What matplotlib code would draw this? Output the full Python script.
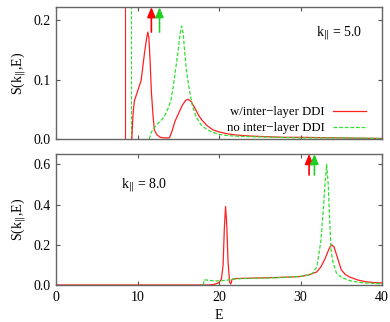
import matplotlib
matplotlib.use("Agg")
import matplotlib.pyplot as plt

plt.rcParams['font.family'] = ['Liberation Serif', 'DejaVu Serif']
plt.rcParams['mathtext.fontset'] = 'stix'

RED = '#ff2020'
GREEN = '#30e030'

# ---- k = 5.0 (top) ----
top_red_E = [9.3, 9.4, 9.5, 9.63, 10.0, 10.45, 10.85, 11.1, 11.26, 11.4, 11.55, 11.7, 11.9, 12.07, 12.4, 12.8, 13.3, 13.9,
             14.2, 14.6, 15.1, 15.5, 15.9, 16.2, 16.6, 17.0, 17.5, 17.9, 18.5, 19.2, 20.0, 21.0, 22.0, 24.0, 26.0, 28.0, 30.0, 35.0, 40.0]
top_red_S = [0.0, 0.03, 0.05, 0.065, 0.08, 0.099, 0.144, 0.168, 0.18, 0.17, 0.13, 0.08, 0.04, 0.015, 0.007, 0.003, 0.002, 0.002,
             0.012, 0.03, 0.045, 0.057, 0.065, 0.067, 0.063, 0.053, 0.04, 0.032, 0.023, 0.016, 0.012, 0.009, 0.007, 0.005, 0.004, 0.003, 0.003, 0.002, 0.001]
top_green_E = [11.45, 11.7, 12.0, 12.3, 12.8, 13.3, 13.7, 14.1, 14.4, 14.7, 15.0, 15.2, 15.4, 15.6, 15.8, 16.0, 16.3, 16.7, 17.2, 17.8,
               18.5, 19.3, 20.0, 21.0, 22.0, 24.0, 27.0, 30.0, 35.0, 40.0]
top_green_S = [0.0, 0.012, 0.018, 0.024, 0.03, 0.038, 0.05, 0.065, 0.09, 0.12, 0.15, 0.175, 0.19, 0.178, 0.145, 0.115, 0.088, 0.058, 0.037, 0.024,
               0.016, 0.011, 0.008, 0.006, 0.005, 0.004, 0.003, 0.002, 0.002, 0.001]
top_red_delta = 8.45
top_green_delta = 9.18
top_arrows_E = [11.7, 12.7]
top_arrow_base = 0.18

# ---- k = 8.0 (bottom) ----
bot_red_E = [0.0, 18.8, 19.5, 20.0, 20.3, 20.5, 20.65, 20.8, 20.95, 21.1, 21.3, 21.45, 21.6, 22.0, 23.0, 25.0, 27.0, 29.0, 30.0, 31.0,
             32.0, 32.5, 33.0, 33.5, 33.8, 34.1, 34.5, 35.0, 35.5, 36.0, 37.0, 38.0, 39.0, 40.0]
bot_red_S = [0.0, 0.0, 0.004, 0.012, 0.03, 0.1, 0.28, 0.39, 0.3, 0.12, 0.013, 0.005, 0.028, 0.032, 0.033, 0.035, 0.037, 0.04, 0.042, 0.05,
             0.065, 0.09, 0.13, 0.18, 0.2, 0.19, 0.14, 0.075, 0.052, 0.04, 0.025, 0.016, 0.012, 0.01]
bot_green_E = [18.1, 18.15, 19.0, 20.0, 20.5, 21.0, 22.0, 23.0, 25.0, 27.0, 29.0, 30.0, 31.0, 31.5, 32.0, 32.5, 32.8, 33.0, 33.2,
               33.4, 33.6, 33.75, 34.0, 34.4, 35.0, 36.0, 37.0, 38.0, 40.0]
bot_green_S = [0.0, 0.026, 0.022, 0.02, 0.022, 0.024, 0.03, 0.032, 0.034, 0.036, 0.04, 0.043, 0.05, 0.06, 0.09, 0.22, 0.38, 0.5, 0.6,
               0.5, 0.3, 0.17, 0.11, 0.06, 0.038, 0.022, 0.014, 0.01, 0.006]
bot_arrows_E = [31.05, 31.7]
bot_arrow_base = 0.547

labels = ['w/inter\u2212layer DDI', 'no inter\u2212layer DDI']
ylab = 'S(k$_{\\Vert}$,E)'

fig = plt.figure(figsize=(3.9, 3.22), dpi=100)
ax1 = fig.add_axes([0.1436, 0.568, 0.836, 0.41])
ax2 = fig.add_axes([0.1436, 0.115, 0.836, 0.407])

for ax in (ax1, ax2):
    ax.set_xlim(0, 40)
    ax.set_xticks([0, 10, 20, 30, 40])
    ax.tick_params(direction='in', top=True, right=True, length=3, width=0.8,
                   labelsize=10, color='#555555', pad=4)
    for s in ax.spines.values():
        s.set_color('#666666')
        s.set_linewidth(1.0)
    ax.set_ylabel(ylab, fontsize=10)

# top
ax1.set_ylim(0, 0.222)
ax1.set_yticks([0.0, 0.1, 0.2])
ax1.set_yticklabels(['0.0', '0.1', '0.2'])
ax1.tick_params(labelbottom=False)
ax1.axvline(top_red_delta, color=RED, lw=0.8)
ax1.axvline(top_green_delta, color=GREEN, lw=0.8, ls=(0, (3, 1.5)))
ax1.plot(top_red_E, top_red_S, color=RED, lw=0.9, label=labels[0])
ax1.plot(top_green_E, top_green_S, color=GREEN, lw=0.9, ls=(0, (3, 1.5)), label=labels[1])
ax1.text(0.94, 0.80, 'k$_{\\Vert}$ = 5.0', transform=ax1.transAxes, ha='right', va='center', fontsize=10)
leg = ax1.legend(loc='lower right', frameon=False, markerfirst=False, fontsize=9.2,
                 handlelength=2.6, handletextpad=0.65, labelspacing=0.3,
                 borderaxespad=0.0, bbox_to_anchor=(0.966, 0.0))

def arrows(ax, xs, base, top):
    ax.annotate('', xy=(xs[0], top), xytext=(xs[0], base),
                arrowprops=dict(arrowstyle='-|>,head_width=0.25,head_length=0.6', color='red', lw=1.2,
                                shrinkA=0, shrinkB=0))
    ax.annotate('', xy=(xs[1], top), xytext=(xs[1], base),
                arrowprops=dict(arrowstyle='-|>,head_width=0.25,head_length=0.6', color='#20d020', lw=1.2,
                                ls=(0, (1.5, 0.8)), shrinkA=0, shrinkB=0))

arrows(ax1, top_arrows_E, top_arrow_base, 0.222)

# bottom
ax2.set_ylim(0, 0.652)
ax2.set_yticks([0.0, 0.2, 0.4, 0.6])
ax2.set_yticklabels(['0.0', '0.2', '0.4', '0.6'])
ax2.plot(bot_red_E, bot_red_S, color=RED, lw=0.9)
ax2.plot(bot_green_E, bot_green_S, color=GREEN, lw=0.9, ls=(0, (3, 1.5)))
ax2.set_xlabel('E', fontsize=10, labelpad=4)
ax2.text(0.2, 0.765, 'k$_{\\Vert}$ = 8.0', transform=ax2.transAxes, ha='left', va='center', fontsize=10)
arrows(ax2, bot_arrows_E, bot_arrow_base, 0.652)

fig.align_ylabels([ax1, ax2])
fig.savefig('out.png', dpi=100)
